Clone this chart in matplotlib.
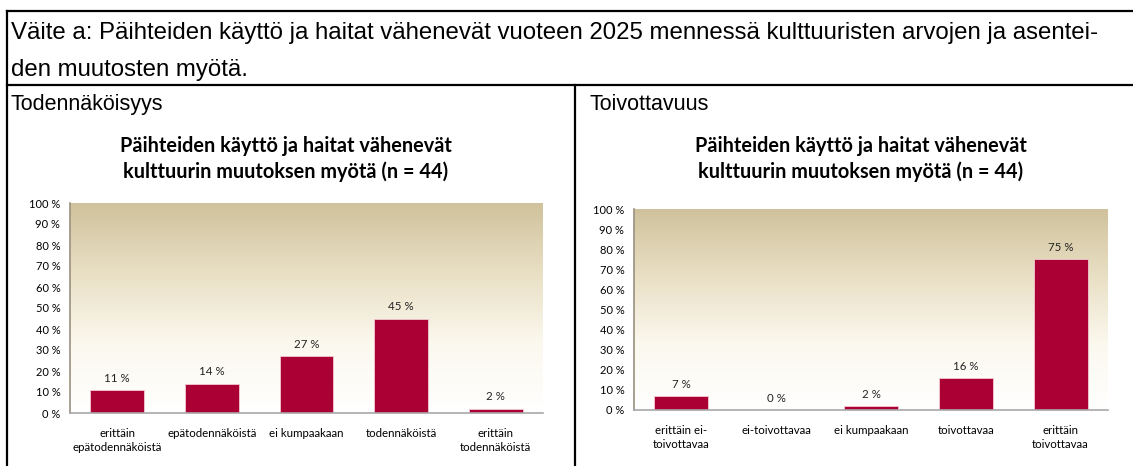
import numpy as np
import matplotlib.pyplot as plt
from matplotlib.colors import LinearSegmentedColormap
from matplotlib.lines import Line2D

# survey results, share of respondents (%)
cats_prob = ['erittäin\nepätodennäköistä', 'epätodennäköistä', 'ei kumpaakaan',
             'todennäköistä', 'erittäin\ntodennäköistä']
vals_prob = [11, 14, 27, 45, 2]
cats_desir = ['erittäin ei-\ntoivottavaa', 'ei-toivottavaa', 'ei kumpaakaan',
              'toivottavaa', 'erittäin\ntoivottavaa']
vals_desir = [7, 0, 2, 16, 75]
yticks = list(range(0, 101, 10))

chart_title = 'Päihteiden käyttö ja haitat vähenevät\nkulttuurin muutoksen myötä (n = 44)'
bar_col = '#ab0034'
W, H = 1133, 466

fig = plt.figure(figsize=(W / 100, H / 100), dpi=100)
fig.patch.set_facecolor('white')

# tan-to-white background for the plot area
bg = LinearSegmentedColormap.from_list('bg', ['#ffffff', '#fbf8ee', '#e9dfc4', '#cfc29c'])
grad = np.linspace(0, 1, 256).reshape(-1, 1)


def fx(px):
    return px / W


def fy(py):
    return 1 - py / H


def draw_chart(rect, cats, vals):
    ax = fig.add_axes(rect)
    x = np.arange(len(cats))
    ax.set_xlim(-0.5, len(cats) - 0.5)
    ax.set_ylim(0, 100)
    ax.imshow(grad, cmap=bg, aspect='auto', origin='lower',
              extent=(-0.5, len(cats) - 0.5, 0, 100), zorder=0)
    ax.bar(x, vals, width=0.57, color=bar_col, edgecolor='#f2c9d2',
           linewidth=0.6, zorder=2)
    for xi, v in zip(x, vals):
        ax.text(xi, v + 3, f'{v} %', ha='center', va='bottom',
                fontsize=8.3, family='Lato', color='#222222')
    ax.set_xticks(x)
    ax.set_xticklabels(cats, fontsize=8.3, family='Lato', linespacing=1.3)
    ax.set_yticks(yticks)
    ax.set_yticklabels([f'{t} %' for t in yticks], fontsize=8, family='Lato')
    ax.tick_params(axis='y', length=0, pad=7)
    ax.tick_params(axis='x', length=0, pad=11)
    for s in ['top', 'right']:
        ax.spines[s].set_visible(False)
    ax.spines['left'].set_color('#9a9080')
    ax.spines['bottom'].set_color('#a8a8a8')
    ax.spines['left'].set_linewidth(1.2)
    ax.spines['bottom'].set_linewidth(1.2)
    return ax


draw_chart([fx(70), fy(413), fx(543 - 70), (413 - 203) / H], cats_prob, vals_prob)
draw_chart([fx(634), fy(410), fx(1108 - 634), (410 - 209) / H], cats_desir, vals_desir)

# statement text and section headings
fig.text(fx(11), fy(33), 'Väite a: Päihteiden käyttö ja haitat vähenevät vuoteen 2025 '
         'mennessä kulttuuristen arvojen ja asentei-',
         family='Liberation Sans', fontsize=17.3, va='center', ha='left')
fig.text(fx(11), fy(70), 'den muutosten myötä.',
         family='Liberation Sans', fontsize=17.3, va='center', ha='left')
fig.text(fx(11), fy(104), 'Todennäköisyys',
         family='Liberation Sans', fontsize=15.5, va='center', ha='left')
fig.text(fx(590), fy(104), 'Toivottavuus',
         family='Liberation Sans', fontsize=15.5, va='center', ha='left')

fig.text(fx(286), fy(159), chart_title, family='Lato', fontweight='bold',
         fontsize=14.3, ha='center', va='center', linespacing=1.3)
fig.text(fx(861), fy(159), chart_title, family='Lato', fontweight='bold',
         fontsize=14.3, ha='center', va='center', linespacing=1.3)

# table borders
lw = 1.6
fig.add_artist(Line2D([fx(7), 1], [fy(11), fy(11)], color='black', lw=lw))
fig.add_artist(Line2D([fx(7), 1], [fy(85), fy(85)], color='black', lw=lw))
fig.add_artist(Line2D([fx(7), fx(7)], [fy(11), 0], color='black', lw=lw))
fig.add_artist(Line2D([fx(575), fx(575)], [fy(85), 0], color='black', lw=lw))

plt.savefig('out.png', dpi=100)
